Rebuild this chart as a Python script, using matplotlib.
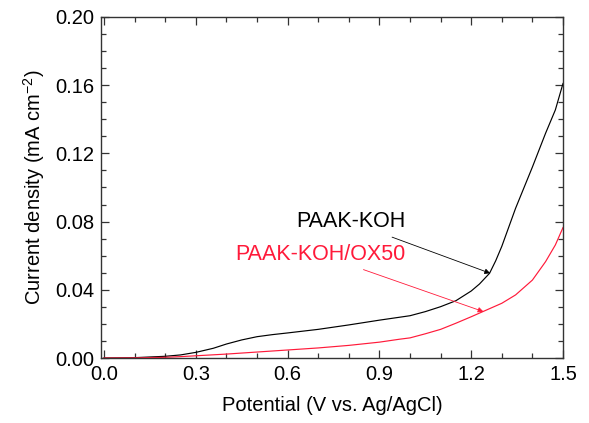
import matplotlib
matplotlib.use("Agg")
import matplotlib.pyplot as plt
from matplotlib.ticker import MultipleLocator

plt.rcParams['font.family'] = ['Liberation Sans', 'DejaVu Sans']

potential_a = [0.0, 0.1, 0.2, 0.25, 0.3, 0.357, 0.4, 0.45, 0.5, 0.55, 0.6, 0.7, 0.8, 0.9, 1.0,
               1.05, 1.1, 1.15, 1.2, 1.227, 1.26, 1.28, 1.3, 1.345, 1.4, 1.443, 1.475, 1.5]
j_paak_koh = [0.0, 0.0002, 0.001, 0.0018, 0.0033, 0.0057, 0.0082, 0.0106, 0.0125, 0.0137, 0.0147,
              0.0168, 0.0194, 0.0222, 0.0248, 0.0272, 0.0301, 0.0336, 0.0393, 0.0434, 0.0497,
              0.057, 0.0655, 0.0878, 0.112, 0.1318, 0.1455, 0.161]

potential_b = [0.0, 0.1, 0.2, 0.25, 0.3, 0.4, 0.5, 0.6, 0.7, 0.8, 0.9, 0.965, 1.0, 1.05, 1.1,
               1.15, 1.2, 1.238, 1.3, 1.345, 1.4, 1.443, 1.475, 1.5]
j_paak_koh_ox50 = [0.0, 0.0001, 0.0004, 0.0008, 0.0013, 0.0023, 0.0035, 0.0047, 0.0059,
                   0.0074, 0.0093, 0.011, 0.0118, 0.0142, 0.0168, 0.0204, 0.0242, 0.0272,
                   0.0321, 0.037, 0.0457, 0.0565, 0.0663, 0.0765]

x_ticks = [0.0, 0.3, 0.6, 0.9, 1.2, 1.5]
y_ticks = [0.00, 0.04, 0.08, 0.12, 0.16, 0.20]

RED = '#ff1a3a'

fig = plt.figure(figsize=(5.89, 4.23), dpi=100)
ax = fig.add_axes([101/589, 1 - 358/423, (563-101)/589, (358-17)/423])

ax.plot(potential_a, j_paak_koh, color='black', lw=0.85)
ax.plot(potential_b, j_paak_koh_ox50, color=RED, lw=0.85)

ax.set_xlim(-0.01, 1.5)
ax.set_ylim(0, 0.20)
ax.set_xticks(x_ticks)
ax.set_xticklabels([f"{v:.1f}" for v in x_ticks])
ax.set_yticks(y_ticks)
ax.set_yticklabels([f"{v:.2f}" for v in y_ticks])
ax.xaxis.set_minor_locator(MultipleLocator(0.1))
ax.yaxis.set_minor_locator(MultipleLocator(0.01))
ax.tick_params(which='both', direction='in', top=True, right=True, width=0.9, color='#333333')
ax.tick_params(which='major', length=6, labelsize=14.5, pad=5)
ax.tick_params(which='minor', length=3.5)
for s in ax.spines.values():
    s.set_linewidth(1.0)
    s.set_color('#333333')

ax.set_xlabel('Potential (V vs. Ag/AgCl)', fontsize=14.5, labelpad=9)
ax.set_ylabel('Current density (mA cm$^{\\mathregular{-2}}$)', fontsize=14.5, labelpad=6)

ax.annotate('PAAK-KOH', xy=(1.262, 0.0497), xytext=(0.985, 0.0798),
            ha='right', va='center', fontsize=15.5, color='black',
            arrowprops=dict(arrowstyle='-|>', color='black', lw=0.6, mutation_scale=8,
                            shrinkA=4, shrinkB=0))
ax.annotate('PAAK-KOH/OX50', xy=(1.24, 0.0272), xytext=(0.985, 0.0607),
            ha='right', va='center', fontsize=15.5, color=RED,
            arrowprops=dict(arrowstyle='-|>', color=RED, lw=0.6, mutation_scale=8,
                            shrinkA=4, shrinkB=0))

fig.savefig('out.png', dpi=100)
